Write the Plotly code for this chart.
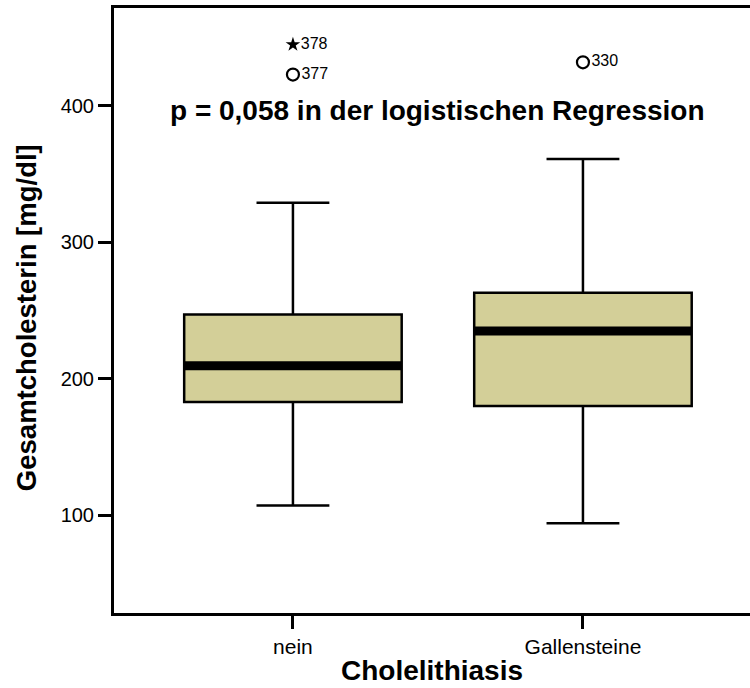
import plotly.graph_objects as go

# ---- data ----
categories = ["nein", "Gallensteine"]
q1 = [183, 180]
median = [209.5, 235]
q3 = [247, 263]
lower_whisker = [107, 94]
upper_whisker = [329, 361]

outlier_cat = ["nein", "Gallensteine"]
outlier_val = [423, 432]
outlier_id = ["377", "330"]

extreme_cat = ["nein"]
extreme_val = [445]
extreme_id = ["378"]

y_ticks = [100, 200, 300, 400]
annotation_text = "p = 0,058 in der logistischen Regression"
x_title = "Cholelithiasis"
y_title = "Gesamtcholesterin [mg/dl]"

# ---- figure ----
pos = {c: i for i, c in enumerate(categories)}
BOX_W = 0.75
FONT = "Liberation Sans, Arial, Helvetica, sans-serif"

fig = go.Figure()

fig.add_trace(go.Box(
    x=[pos[c] for c in categories],
    q1=q1, median=median, q3=q3,
    lowerfence=lower_whisker, upperfence=upper_whisker,
    width=BOX_W, whiskerwidth=0.335,
    fillcolor="#D3CF98",
    line=dict(color="black", width=2.5),
    boxpoints=False, hoverinfo="skip", showlegend=False,
))

# thick median bars
mx, my = [], []
for c, m in zip(categories, median):
    p = pos[c]
    mx += [p - BOX_W / 2, p + BOX_W / 2, None]
    my += [m, m, None]
fig.add_trace(go.Scatter(
    x=mx, y=my, mode="lines",
    line=dict(color="black", width=9),
    hoverinfo="skip", showlegend=False,
))

fig.add_trace(go.Scatter(
    x=[pos[c] for c in outlier_cat], y=outlier_val,
    mode="markers+text", text=outlier_id, textposition="middle right",
    textfont=dict(family=FONT, size=16, color="black"),
    marker=dict(symbol="circle-open", size=12, color="black", line=dict(width=2.2)),
    hoverinfo="skip", showlegend=False,
))

fig.add_trace(go.Scatter(
    x=[pos[c] for c in extreme_cat], y=extreme_val,
    mode="markers+text", text=extreme_id, textposition="middle right",
    textfont=dict(family=FONT, size=16, color="black"),
    marker=dict(symbol="star", size=11, color="black"),
    hoverinfo="skip", showlegend=False,
))

fig.add_annotation(
    x=0.5, y=397, xref="x", yref="y",
    text="<b>" + annotation_text + "</b>", showarrow=False,
    font=dict(family=FONT, size=28, color="black"),
    xanchor="center", yanchor="middle",
)

# y-axis title
fig.add_annotation(
    x=-0.1384, y=0.489, xref="paper", yref="paper",
    text="<b>" + y_title + "</b>", showarrow=False, textangle=-90,
    font=dict(family=FONT, size=27.5, color="black"),
    xanchor="center", yanchor="middle",
)

fig.update_layout(
    width=750, height=688,
    margin=dict(l=114, r=0, t=8, b=75),
    paper_bgcolor="white", plot_bgcolor="white",
    font=dict(family=FONT, color="black"),
    xaxis=dict(
        range=[-0.617, 1.576],
        tickmode="array", tickvals=[pos[c] for c in categories], ticktext=categories,
        ticks="outside", ticklen=13, tickwidth=2.5, tickcolor="black",
        tickfont=dict(size=21, family=FONT),
        showline=True, linewidth=3, linecolor="black", mirror=True,
        showgrid=False, zeroline=False,
        title=dict(text="<b>" + x_title + "</b>", font=dict(size=28, family=FONT), standoff=4),
    ),
    yaxis=dict(
        range=[28.2, 471.8],
        tickmode="array", tickvals=y_ticks,
        ticks="outside", ticklen=13, tickwidth=2.5, tickcolor="black",
        tickfont=dict(size=20, family=FONT),
        showline=True, linewidth=3, linecolor="black", mirror=False,
        showgrid=False, zeroline=False,
    ),
)

fig.write_html("out.html")
